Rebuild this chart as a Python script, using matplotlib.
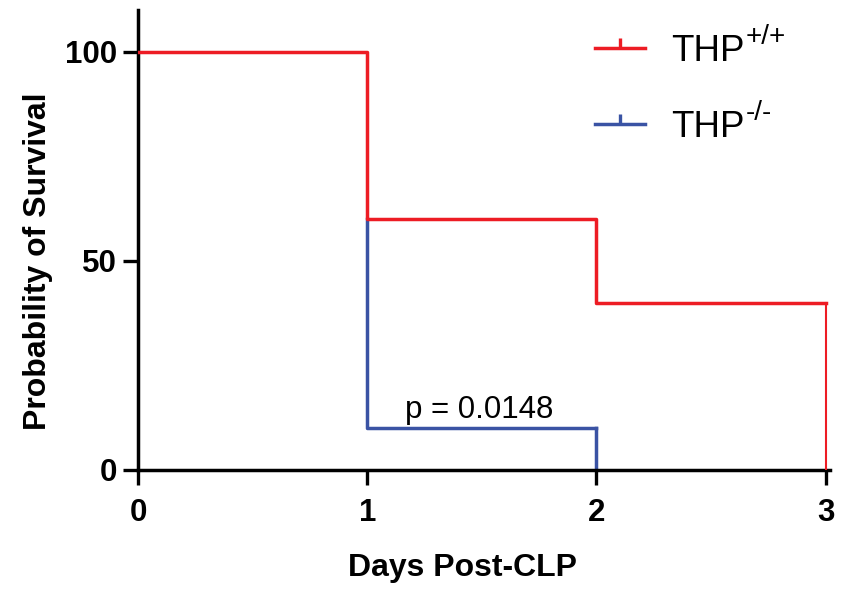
import matplotlib
matplotlib.use('Agg')
import matplotlib.pyplot as plt
from matplotlib.lines import Line2D
from matplotlib.path import Path

plt.rcParams['font.family'] = ['Liberation Sans', 'DejaVu Sans']

# survival data (days, percent survival)
wt_days = [0, 1, 2, 3]
wt_surv = [100, 60, 40, 40]
ko_days = [1, 1, 2]
ko_surv = [60, 10, 10]
ko_end = [10, 0]
wt_end = [40, 0]

labels = ['THP', 'THP']
sup_labels = ['+/+', '-/-']
p_text = 'p = 0.0148'
x_ticks = [0, 1, 2, 3]
y_ticks = [0, 50, 100]

red = '#ED1C24'
blue = '#3A53A4'

fig = plt.figure(figsize=(8.42, 5.94), dpi=100)
ax = fig.add_axes([0.164, 0.209, 0.822, 0.774])

ax.step(wt_days, wt_surv, where='post', color=red, lw=2.5, zorder=3)
ax.plot([wt_days[-1], wt_days[-1]], wt_end, color=red, lw=1.5, zorder=3)
ax.step(ko_days, ko_surv, where='post', color=blue, lw=2.5, zorder=2)
ax.plot([ko_days[-1], ko_days[-1]], ko_end, color=blue, lw=2.5, zorder=2)

ax.text(1.49, 12.5, p_text, ha='center', va='baseline', fontsize=22.5)

ax.set_xlim(0, 3.02)
ax.set_ylim(0, 110)
ax.set_xticks(x_ticks)
ax.set_yticks(y_ticks)
for s in ['top', 'right']:
    ax.spines[s].set_visible(False)
for s in ['left', 'bottom']:
    ax.spines[s].set_linewidth(2.5)
ax.tick_params(width=2.4, length=11, direction='out', labelsize=22.5)
ax.tick_params(axis='x', pad=9)
ax.tick_params(axis='y', pad=4)
for lab in ax.get_xticklabels() + ax.get_yticklabels():
    lab.set_fontweight('bold')

ax.set_xlabel('Days Post-CLP', fontsize=23, fontweight='bold', labelpad=18)
ax.xaxis.label.set_x(0.468)
ax.set_ylabel('Probability of Survival', fontsize=23, fontweight='bold', labelpad=9)
ax.yaxis.label.set_y(50 / 110)

tick_up = Path([(0, 0), (0, 1)], [Path.MOVETO, Path.LINETO])
handles = [Line2D([], [], color=red, lw=2.5, marker=tick_up, markersize=14,
                  markeredgewidth=2.4, markeredgecolor=red),
           Line2D([], [], color=blue, lw=2.5, marker=tick_up, markersize=14,
                  markeredgewidth=2.4, markeredgecolor=blue)]
leg = ax.legend(handles, labels, loc='upper left', bbox_to_anchor=(0.613, 1.02),
                frameon=False, fontsize=26.5, handlelength=1.35, handletextpad=0.7,
                labelspacing=1.1, numpoints=1)

# superscripts with plain hyphens, like the original
fig.canvas.draw()
W, H = fig.bbox.width, fig.bbox.height
for t, sup in zip(leg.get_texts(), sup_labels):
    bb = t.get_window_extent()
    fig.text((bb.x1 + 1) / W, (bb.y0 + 25) / H, sup, ha='left', va='baseline',
             fontsize=20)

fig.savefig('out.png', dpi=100)
